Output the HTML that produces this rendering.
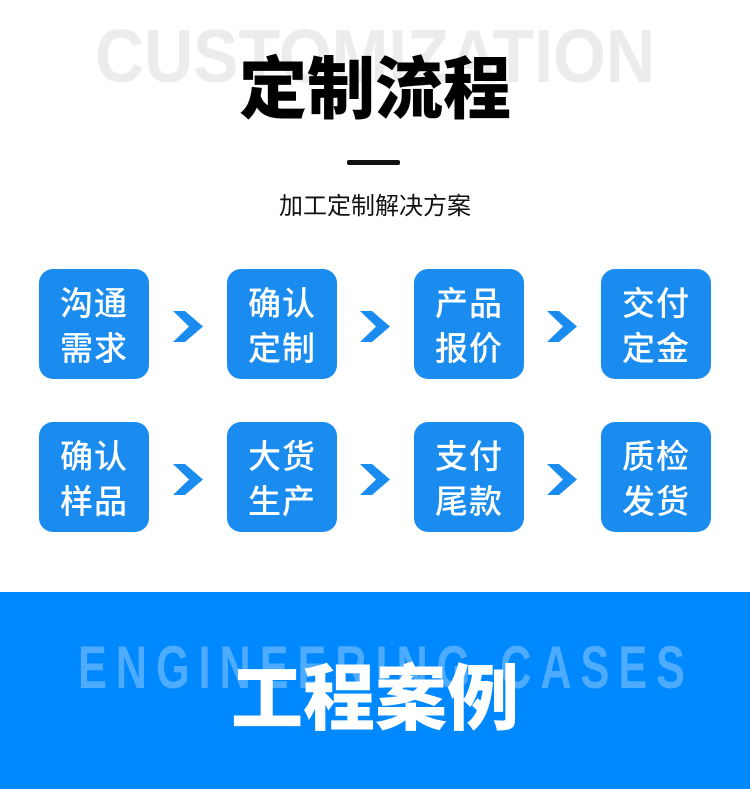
<!DOCTYPE html>
<html><head><meta charset="utf-8"><style>
body{margin:0;width:750px;height:789px;background:#fff;position:relative;overflow:hidden;font-family:"Liberation Sans","Noto Sans CJK SC",sans-serif}
.a{position:absolute}
.t1{left:0;width:750px;top:48px;text-align:center;font-size:68px;font-weight:900;color:#000;line-height:84px}
.dash{left:347px;top:160px;width:53px;height:5px;background:#111;border-radius:2px}
.sub{left:0;width:750px;top:190px;text-align:center;font-size:24px;color:#111;line-height:34px}
.box{width:110px;height:110px;background:#1a8cf0;border-radius:14px;color:#fff;font-size:33px;font-weight:500;line-height:45px;text-align:center;display:flex;flex-direction:column;justify-content:center;letter-spacing:1px;font-family:"Noto Sans CJK SC",sans-serif}
.band{left:0;top:592px;width:750px;height:197px;background:#0088ff}
.t2{left:0;width:750px;top:656px;text-align:center;font-size:72px;font-weight:900;color:#fff;line-height:88px}
</style></head><body>
<svg class="a" style="left:0;top:0" width="750" height="120">
<text x="95" y="82" textLength="560" lengthAdjust="spacingAndGlyphs" font-family="Liberation Sans" font-weight="bold" font-size="75" fill="#ececec">CUSTOMIZATION</text>
</svg>
<div class="a t1">定制流程</div>
<div class="a dash"></div>
<div class="a sub">加工定制解决方案</div>

<div class="a box" style="left:39px;top:269px">沟通<br>需求</div>
<div class="a box" style="left:227px;top:269px">确认<br>定制</div>
<div class="a box" style="left:414px;top:269px">产品<br>报价</div>
<div class="a box" style="left:601px;top:269px">交付<br>定金</div>
<div class="a box" style="left:39px;top:422px">确认<br>样品</div>
<div class="a box" style="left:227px;top:422px">大货<br>生产</div>
<div class="a box" style="left:414px;top:422px">支付<br>尾款</div>
<div class="a box" style="left:601px;top:422px">质检<br>发货</div>

<svg class="a" style="left:0;top:0" width="750" height="589">
<defs><polygon id="c" points="0,0 12,0 30,15.5 12,31 0,31 16,15.5" fill="#1a8cf0"/></defs>
<use href="#c" x="173" y="311"/><use href="#c" x="360" y="311"/><use href="#c" x="547" y="311"/>
<use href="#c" x="173" y="464"/><use href="#c" x="360" y="464"/><use href="#c" x="547" y="464"/>
</svg>

<div class="a band"></div>
<svg class="a" style="left:0;top:592px" width="750" height="197">
<text transform="translate(78,96) scale(0.72,1)" x="0" y="0" textLength="843" lengthAdjust="spacing" font-family="Liberation Sans" font-weight="bold" font-size="60" fill="rgba(255,255,255,0.3)">ENGINEERING CASES</text>
</svg>
<div class="a t2">工程案例</div>
</body></html>
